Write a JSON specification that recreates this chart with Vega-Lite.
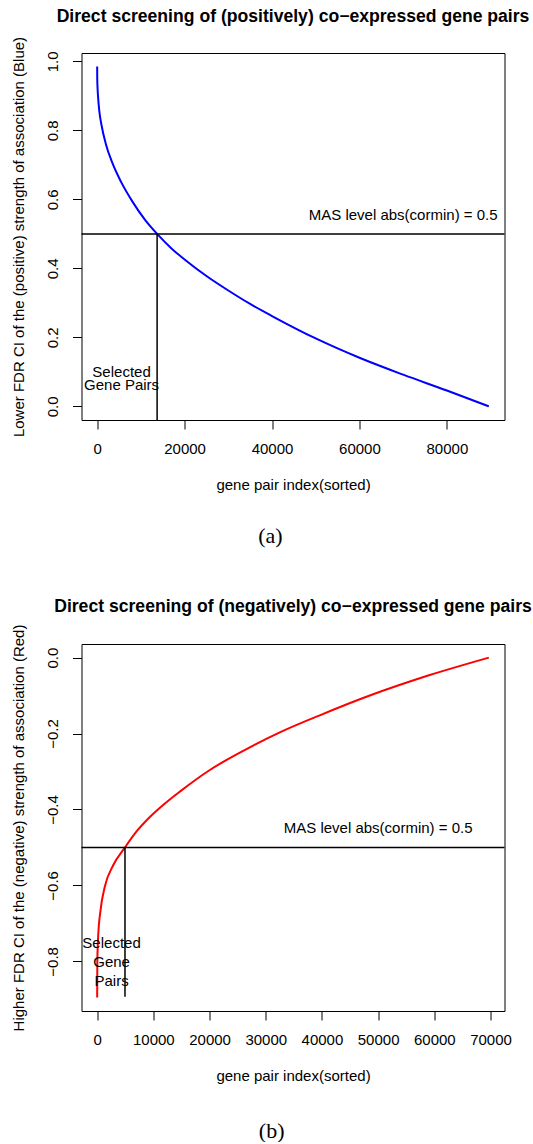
{
  "$schema": "https://vega.github.io/schema/vega-lite/v6.json",
  "padding": {"left": 10.5, "top": 7, "right": 0, "bottom": 0},
  "background": "white",
  "datasets": {
    "curveA": [
      {"index": 0, "value": 0.985},
      {"index": 20, "value": 0.95},
      {"index": 100, "value": 0.92},
      {"index": 250, "value": 0.89},
      {"index": 500, "value": 0.855},
      {"index": 1000, "value": 0.815},
      {"index": 2000, "value": 0.76},
      {"index": 3500, "value": 0.705},
      {"index": 5500, "value": 0.65},
      {"index": 8000, "value": 0.595},
      {"index": 11000, "value": 0.54},
      {"index": 13714, "value": 0.5},
      {"index": 17000, "value": 0.458},
      {"index": 20000, "value": 0.426},
      {"index": 25000, "value": 0.378},
      {"index": 30000, "value": 0.336},
      {"index": 35000, "value": 0.297},
      {"index": 40000, "value": 0.262},
      {"index": 50000, "value": 0.197},
      {"index": 60000, "value": 0.141},
      {"index": 70000, "value": 0.092},
      {"index": 80000, "value": 0.046},
      {"index": 89600, "value": 0.0}
    ],
    "curveB": [
      {"index": 0, "value": -0.895},
      {"index": 30, "value": -0.80},
      {"index": 178, "value": -0.735},
      {"index": 605, "value": -0.665},
      {"index": 1370, "value": -0.603},
      {"index": 2850, "value": -0.547},
      {"index": 4950, "value": -0.5},
      {"index": 7010, "value": -0.458},
      {"index": 9375, "value": -0.42},
      {"index": 12000, "value": -0.385},
      {"index": 14710, "value": -0.353},
      {"index": 20050, "value": -0.296},
      {"index": 26580, "value": -0.241},
      {"index": 32500, "value": -0.197},
      {"index": 39620, "value": -0.152},
      {"index": 48510, "value": -0.100},
      {"index": 59190, "value": -0.046},
      {"index": 69700, "value": 0.0}
    ],
    "levelA": [{"index": 13714, "low": -0.0394, "level": 0.5}],
    "levelB": [{"index": 4950, "low": -0.893, "level": -0.5}],
    "notesA": [
      {"index": 70000, "value": 0.555, "label": "MAS level abs(cormin) = 0.5"}
    ],
    "selA": [
      {"index": 5577, "value": 0.1, "label": "Selected\nGene Pairs"}
    ],
    "notesB": [
      {"index": 50000, "value": -0.449, "label": "MAS level abs(cormin) = 0.5"}
    ],
    "selB": [
      {"index": 2560, "value": -0.752, "label": "Selected\nGene\nPairs"}
    ]
  },
  "config": {
    "view": {"stroke": "black", "strokeWidth": 1},
    "font": "Liberation Sans",
    "concat": {"spacing": 50},
    "axis": {
      "domain": false,
      "grid": false,
      "tickSize": 9,
      "tickColor": "black",
      "tickWidth": 1,
      "labelFont": "Liberation Sans",
      "labelFontSize": 15,
      "labelColor": "black",
      "labelOverlap": false,
      "labelFlush": false,
      "titleFont": "Liberation Sans",
      "titleFontSize": 15,
      "titleFontWeight": "normal",
      "titleColor": "black"
    },
    "axisX": {"labelPadding": 12, "titlePadding": 21},
    "axisY": {"labelAngle": -90, "labelAlign": "center", "labelBaseline": "bottom", "labelPadding": 12.5, "titlePadding": 18.5},
    "title": {"font": "Liberation Sans", "fontSize": 17.6, "fontWeight": "bold", "color": "black", "anchor": "middle"}
  },
  "vconcat": [
    {
      "title": {"text": "(a)", "orient": "bottom", "font": "Liberation Serif", "fontSize": 22, "fontWeight": "normal", "offset": 33},
      "vconcat": [
        {
          "width": 423,
          "height": 367,
          "title": {"text": "Direct screening of (positively) co−expressed gene pairs", "offset": 11},
          "layer": [
            {
              "data": {"name": "curveA"},
              "mark": {"type": "line", "color": "#0000FF", "strokeWidth": 2, "interpolate": "monotone", "clip": true},
              "encoding": {
                "x": {"field": "index", "type": "quantitative", "scale": {"domain": [-3584, 93184], "nice": false, "zero": false},
                      "axis": {"title": "gene pair index(sorted)", "values": [0, 20000, 40000, 60000, 80000], "format": "d"}},
                "y": {"field": "value", "type": "quantitative", "scale": {"domain": [-0.0394, 1.0244], "nice": false, "zero": false},
                      "axis": {"title": "Lower FDR CI of the (positive) strength of association (Blue)", "values": [0, 0.2, 0.4, 0.6, 0.8, 1.0], "format": ".1f"}}
              }
            },
            {
              "data": {"name": "levelA"},
              "mark": {"type": "rule", "color": "black", "strokeWidth": 1.5},
              "encoding": {"y": {"field": "level", "type": "quantitative"}}
            },
            {
              "data": {"name": "levelA"},
              "mark": {"type": "rule", "color": "black", "strokeWidth": 1.5, "clip": true},
              "encoding": {
                "x": {"field": "index", "type": "quantitative"},
                "y": {"field": "low", "type": "quantitative"},
                "y2": {"field": "level"}
              }
            },
            {
              "data": {"name": "notesA"},
              "mark": {"type": "text", "fontSize": 15, "color": "black", "align": "center", "baseline": "middle"},
              "encoding": {
                "x": {"field": "index", "type": "quantitative"},
                "y": {"field": "value", "type": "quantitative"},
                "text": {"field": "label"}
              }
            },
            {
              "data": {"name": "selA"},
              "mark": {"type": "text", "fontSize": 15, "color": "black", "align": "center", "baseline": "middle", "lineBreak": "\n", "lineHeight": 13.5},
              "encoding": {
                "x": {"field": "index", "type": "quantitative"},
                "y": {"field": "value", "type": "quantitative"},
                "text": {"field": "label"}
              }
            }
          ]
        }
      ]
    },
    {
      "title": {"text": "(b)", "orient": "bottom", "font": "Liberation Serif", "fontSize": 22, "fontWeight": "normal", "offset": 37},
      "vconcat": [
        {
          "width": 423,
          "height": 367,
          "title": {"text": "Direct screening of (negatively) co−expressed gene pairs", "offset": 8},
          "layer": [
            {
              "data": {"name": "curveB"},
              "mark": {"type": "line", "color": "#FF0000", "strokeWidth": 2, "interpolate": "monotone", "clip": true},
              "encoding": {
                "x": {"field": "index", "type": "quantitative", "scale": {"domain": [-2788, 72488], "nice": false, "zero": false},
                      "axis": {"title": "gene pair index(sorted)", "values": [0, 10000, 20000, 30000, 40000, 50000, 60000, 70000], "format": "d"}},
                "y": {"field": "value", "type": "quantitative", "scale": {"domain": [-0.9308, 0.0358], "nice": false, "zero": false},
                      "axis": {"title": "Higher FDR CI of the (negative) strength of association (Red)", "values": [-0.8, -0.6, -0.4, -0.2, 0.0], "format": ".1f"}}
              }
            },
            {
              "data": {"name": "levelB"},
              "mark": {"type": "rule", "color": "black", "strokeWidth": 1.5},
              "encoding": {"y": {"field": "level", "type": "quantitative"}}
            },
            {
              "data": {"name": "levelB"},
              "mark": {"type": "rule", "color": "black", "strokeWidth": 1.5, "clip": true},
              "encoding": {
                "x": {"field": "index", "type": "quantitative"},
                "y": {"field": "low", "type": "quantitative"},
                "y2": {"field": "level"}
              }
            },
            {
              "data": {"name": "notesB"},
              "mark": {"type": "text", "fontSize": 15, "color": "black", "align": "center", "baseline": "middle"},
              "encoding": {
                "x": {"field": "index", "type": "quantitative"},
                "y": {"field": "value", "type": "quantitative"},
                "text": {"field": "label"}
              }
            },
            {
              "data": {"name": "selB"},
              "mark": {"type": "text", "fontSize": 15, "color": "black", "align": "center", "baseline": "middle", "lineBreak": "\n", "lineHeight": 18.7},
              "encoding": {
                "x": {"field": "index", "type": "quantitative"},
                "y": {"field": "value", "type": "quantitative"},
                "text": {"field": "label"}
              }
            }
          ]
        }
      ]
    }
  ]
}
